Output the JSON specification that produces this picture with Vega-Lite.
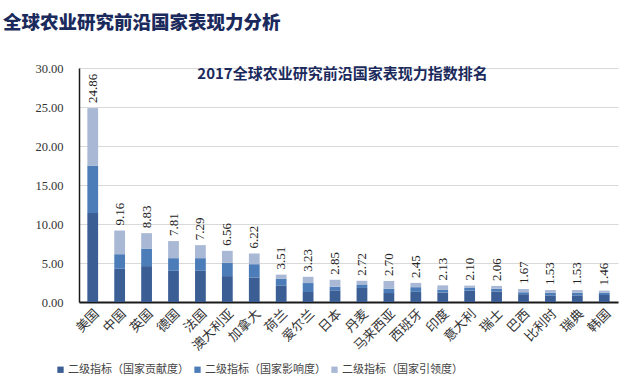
{
  "$schema": "https://vega.github.io/schema/vega-lite/v6.json",
  "width": 539,
  "height": 234,
  "autosize": "none",
  "padding": {"left": 79, "top": 68, "right": 22, "bottom": 89},
  "background": "white",
  "title": {
    "text": "全球农业研究前沿国家表现力分析",
    "anchor": "start",
    "frame": "group",
    "dx": -76,
    "offset": 30,
    "fontSize": 18.5,
    "font": "Noto Sans CJK SC",
    "fontWeight": 900,
    "color": "#1B2A5C"
  },
  "config": {
    "view": {"stroke": null},
    "font": "Liberation Serif"
  },
  "data": {
    "values": [
      {"c": "美国", "s": "二级指标（国家贡献度）", "v": 11.40},
      {"c": "美国", "s": "二级指标（国家影响度）", "v": 6.05},
      {"c": "美国", "s": "二级指标（国家引领度）", "v": 7.41},
      {"c": "中国", "s": "二级指标（国家贡献度）", "v": 4.26},
      {"c": "中国", "s": "二级指标（国家影响度）", "v": 1.87},
      {"c": "中国", "s": "二级指标（国家引领度）", "v": 3.03},
      {"c": "英国", "s": "二级指标（国家贡献度）", "v": 4.60},
      {"c": "英国", "s": "二级指标（国家影响度）", "v": 2.25},
      {"c": "英国", "s": "二级指标（国家引领度）", "v": 1.98},
      {"c": "德国", "s": "二级指标（国家贡献度）", "v": 4.00},
      {"c": "德国", "s": "二级指标（国家影响度）", "v": 1.62},
      {"c": "德国", "s": "二级指标（国家引领度）", "v": 2.19},
      {"c": "法国", "s": "二级指标（国家贡献度）", "v": 4.00},
      {"c": "法国", "s": "二级指标（国家影响度）", "v": 1.62},
      {"c": "法国", "s": "二级指标（国家引领度）", "v": 1.67},
      {"c": "澳大利亚", "s": "二级指标（国家贡献度）", "v": 3.32},
      {"c": "澳大利亚", "s": "二级指标（国家影响度）", "v": 1.70},
      {"c": "澳大利亚", "s": "二级指标（国家引领度）", "v": 1.54},
      {"c": "加拿大", "s": "二级指标（国家贡献度）", "v": 3.15},
      {"c": "加拿大", "s": "二级指标（国家影响度）", "v": 1.70},
      {"c": "加拿大", "s": "二级指标（国家引领度）", "v": 1.37},
      {"c": "荷兰", "s": "二级指标（国家贡献度）", "v": 2.13},
      {"c": "荷兰", "s": "二级指标（国家影响度）", "v": 0.84},
      {"c": "荷兰", "s": "二级指标（国家引领度）", "v": 0.54},
      {"c": "爱尔兰", "s": "二级指标（国家贡献度）", "v": 1.28},
      {"c": "爱尔兰", "s": "二级指标（国家影响度）", "v": 1.15},
      {"c": "爱尔兰", "s": "二级指标（国家引领度）", "v": 0.80},
      {"c": "日本", "s": "二级指标（国家贡献度）", "v": 1.50},
      {"c": "日本", "s": "二级指标（国家影响度）", "v": 0.45},
      {"c": "日本", "s": "二级指标（国家引领度）", "v": 0.90},
      {"c": "丹麦", "s": "二级指标（国家贡献度）", "v": 1.80},
      {"c": "丹麦", "s": "二级指标（国家影响度）", "v": 0.45},
      {"c": "丹麦", "s": "二级指标（国家引领度）", "v": 0.47},
      {"c": "马来西亚", "s": "二级指标（国家贡献度）", "v": 1.15},
      {"c": "马来西亚", "s": "二级指标（国家影响度）", "v": 0.55},
      {"c": "马来西亚", "s": "二级指标（国家引领度）", "v": 1.00},
      {"c": "西班牙", "s": "二级指标（国家贡献度）", "v": 1.30},
      {"c": "西班牙", "s": "二级指标（国家影响度）", "v": 0.60},
      {"c": "西班牙", "s": "二级指标（国家引领度）", "v": 0.55},
      {"c": "印度", "s": "二级指标（国家贡献度）", "v": 1.20},
      {"c": "印度", "s": "二级指标（国家影响度）", "v": 0.35},
      {"c": "印度", "s": "二级指标（国家引领度）", "v": 0.58},
      {"c": "意大利", "s": "二级指标（国家贡献度）", "v": 1.45},
      {"c": "意大利", "s": "二级指标（国家影响度）", "v": 0.35},
      {"c": "意大利", "s": "二级指标（国家引领度）", "v": 0.30},
      {"c": "瑞士", "s": "二级指标（国家贡献度）", "v": 1.35},
      {"c": "瑞士", "s": "二级指标（国家影响度）", "v": 0.35},
      {"c": "瑞士", "s": "二级指标（国家引领度）", "v": 0.36},
      {"c": "巴西", "s": "二级指标（国家贡献度）", "v": 1.00},
      {"c": "巴西", "s": "二级指标（国家影响度）", "v": 0.25},
      {"c": "巴西", "s": "二级指标（国家引领度）", "v": 0.42},
      {"c": "比利时", "s": "二级指标（国家贡献度）", "v": 0.85},
      {"c": "比利时", "s": "二级指标（国家影响度）", "v": 0.35},
      {"c": "比利时", "s": "二级指标（国家引领度）", "v": 0.33},
      {"c": "瑞典", "s": "二级指标（国家贡献度）", "v": 0.85},
      {"c": "瑞典", "s": "二级指标（国家影响度）", "v": 0.35},
      {"c": "瑞典", "s": "二级指标（国家引领度）", "v": 0.33},
      {"c": "韩国", "s": "二级指标（国家贡献度）", "v": 0.90},
      {"c": "韩国", "s": "二级指标（国家影响度）", "v": 0.30},
      {"c": "韩国", "s": "二级指标（国家引领度）", "v": 0.26}
    ]
  },
  "layer": [
    {
      "mark": {"type": "bar"},
      "encoding": {
        "x": {
          "field": "c",
          "type": "nominal",
          "sort": null,
          "scale": {"paddingInner": 0.6, "paddingOuter": 0.31},
          "axis": {
            "title": null,
            "labelAngle": -45,
            "labelFont": "Liberation Serif, Noto Sans CJK SC",
            "labelFontSize": 13,
            "labelColor": "#333333",
            "labelPadding": 5,
            "ticks": false,
            "domainColor": "#1a1a1a",
            "domainWidth": 2
          }
        },
        "y": {
          "field": "v",
          "type": "quantitative",
          "aggregate": "sum",
          "stack": "zero",
          "scale": {"domain": [0, 30], "nice": false},
          "axis": {
            "title": null,
            "values": [0, 5, 10, 15, 20, 25, 30],
            "format": ".2f",
            "labelOverlap": false,
            "labelFont": "Liberation Serif",
            "labelFontSize": 12.5,
            "labelColor": "#333333",
            "labelPadding": 16,
            "ticks": false,
            "domainColor": "#1a1a1a",
            "domainWidth": 1.5,
            "gridColor": "#d9d9d9",
            "gridWidth": 1
          }
        },
        "color": {
          "field": "s",
          "type": "nominal",
          "scale": {
            "domain": ["二级指标（国家贡献度）", "二级指标（国家影响度）", "二级指标（国家引领度）"],
            "range": ["#3B5E95", "#4D7DB9", "#A9B8D5"]
          },
          "legend": {
            "title": null,
            "orient": "none",
            "legendX": -24,
            "legendY": 296,
            "direction": "horizontal",
            "symbolType": "square",
            "symbolSize": 40,
            "symbolStrokeWidth": 0,
            "labelFont": "Liberation Serif, Noto Sans CJK SC",
            "labelFontSize": 11,
            "labelColor": "#444444",
            "labelOffset": 2,
            "columnPadding": 3,
            "labelLimit": 200
          }
        },
        "order": {"field": "s", "sort": "descending"}
      }
    },
    {
      "transform": [
        {"aggregate": [{"op": "sum", "field": "v", "as": "total"}], "groupby": ["c"]}
      ],
      "mark": {
        "type": "text",
        "angle": 270,
        "align": "left",
        "baseline": "middle",
        "dx": 5,
        "font": "Liberation Serif",
        "fontSize": 13,
        "color": "#222222"
      },
      "encoding": {
        "x": {
          "field": "c",
          "type": "nominal",
          "sort": null,
          "axis": {
            "orient": "top",
            "labels": false,
            "ticks": false,
            "domain": false,
            "grid": false,
            "title": "2017全球农业研究前沿国家表现力指数排名",
            "titleFont": "Noto Sans CJK SC",
            "titleFontSize": 15,
            "titleFontWeight": "bold",
            "titleColor": "#1B2A5C",
            "titleBaseline": "middle",
            "titleY": 5,
            "titleX": 263
          }
        },
        "y": {
          "field": "total",
          "type": "quantitative",
          "axis": {
            "title": null,
            "values": [0, 5, 10, 15, 20, 25, 30],
            "format": ".2f",
            "labelOverlap": false,
            "labelFont": "Liberation Serif",
            "labelFontSize": 12.5,
            "labelColor": "#333333",
            "labelPadding": 16,
            "ticks": false,
            "domainColor": "#1a1a1a",
            "domainWidth": 1.5,
            "gridColor": "#d9d9d9",
            "gridWidth": 1
          }
        },
        "text": {"field": "total", "type": "quantitative", "format": ".2f"}
      }
    }
  ],
  "resolve": {"axis": {"x": "independent"}}
}
